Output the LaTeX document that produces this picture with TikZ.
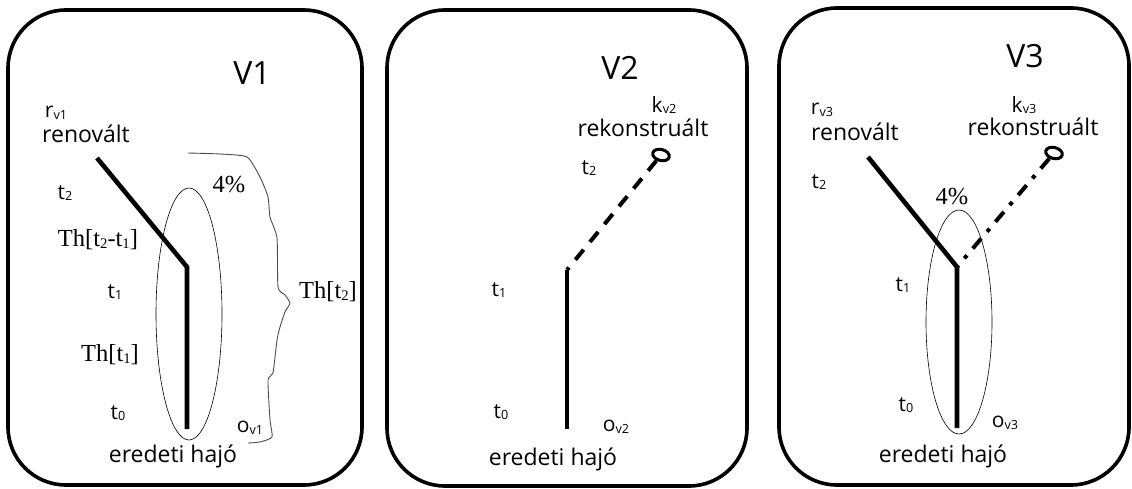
\documentclass[tikz,border=0pt]{standalone}
\usepackage{fontspec}
\usetikzlibrary{shapes.geometric}
\setmainfont{Liberation Serif}
\newfontfamily\osans{Open Sans}
\newcommand\lo[1]{\raisebox{-0.15ex}{\scalebox{0.6}{#1}}}
\begin{document}
\begin{tikzpicture}[x=1pt,y=-1pt,
  panel/.style={line width=3.6pt, rounded corners=58pt},
  title/.style={font=\osans\fontsize{32}{34}\selectfont, inner sep=0pt},
  sanslbl/.style={font=\osans\fontsize{23}{25}\selectfont, inner sep=0pt},
  tlbl/.style={font=\osans\fontsize{21}{23}\selectfont, inner sep=0pt},
  serlbl/.style={font=\fontsize{24.5}{26}\selectfont, inner sep=0pt},
  ship/.style={line width=4.6pt},
  recon/.style={line width=4pt, dash pattern=on 13pt off 10pt},
  recondot/.style={line width=4pt, dash pattern=on 13pt off 9pt on 4pt off 9pt},
  keyloop/.style={line width=3pt},
  thinell/.style={line width=0.6pt},
  wavy/.style={line width=0.9pt, black!70}
]
\useasboundingbox (0,0) rectangle (1132,489);

% ---------- Panel 1 ----------
\draw[panel] (8,10) rectangle (362,485);
\node[title] (v1) at (252,73) {V1};
\node[tlbl] (r1) at (56,113) {r\lo{v1}};
\node[sanslbl] (ren1) at (86,134) {renovált};
\node[tlbl] (t21) at (65,193) {t\lo{2}};
\node[serlbl] (th21) at (98,240) {Th[t\lo{2}-t\lo{1}]};
\node[tlbl] (t11) at (115,292) {t\lo{1}};
\node[serlbl] (th1) at (110,355) {Th[t\lo{1}]};
\node[tlbl] (t01) at (118,413) {t\lo{0}};
\node[sanslbl] (er1) at (173,456) {eredeti hajó};
\node[tlbl] (o1) at (250,428) {o\lo{v1}};
\node[serlbl] (p1) at (229,185) {4\%};
\node[serlbl] (tht2) at (328,292) {Th[t\lo{2}]};
\coordinate (a1) at (97,158);
\coordinate (j1) at (187,267);
\coordinate (b1) at (187,429);
\draw[ship, line join=miter] (a1) -- (j1) -- (b1);
\draw[thinell] (189,314) ellipse [x radius=33pt, y radius=126pt];
\draw[wavy] plot[smooth, tension=0.35] coordinates {(188,153) (220,154) (247,157) (260,177) (268,197) (270,217) (277,238) (278,287) (285,295) (290,303) (285,312) (280,327) (277,340) (273,373) (268,380) (270,420) (272,437) (260,442) (248,443)};

% ---------- Panel 2 ----------
\draw[panel] (387,10) rectangle (747,486);
\node[title] (v2) at (620,68) {V2};
\node[tlbl] (k2) at (664,105) {k\lo{v2}};
\node[sanslbl] (rek2) at (643,128) {rekonstruált};
\node[tlbl] (t22) at (589,168) {t\lo{2}};
\node[tlbl] (t12) at (499,290) {t\lo{1}};
\node[tlbl] (t02) at (501,412) {t\lo{0}};
\node[tlbl] (o2) at (616,427) {o\lo{v2}};
\node[sanslbl] (er2) at (553,459) {eredeti hajó};
\node[draw, keyloop, ellipse, minimum width=17pt, minimum height=11pt, inner sep=0pt, rotate=-15] (key2) at (661,155) {};
\coordinate (j2) at (567,270);
\coordinate (b2) at (567,429);
\draw[recon] (key2) -- (j2);
\draw[ship] (j2) -- (b2);

% ---------- Panel 3 ----------
\draw[panel] (779,8) rectangle (1129,485);
\node[title] (v3) at (1025,56) {V3};
\node[tlbl] (r3) at (822,110) {r\lo{v3}};
\node[sanslbl] (ren3) at (855,132) {renovált};
\node[tlbl] (k3) at (1024,105) {k\lo{v3}};
\node[sanslbl] (rek3) at (1033,127) {rekonstruált};
\node[tlbl] (t23) at (819,182) {t\lo{2}};
\node[serlbl] (p3) at (952,197) {4\%};
\node[tlbl] (t13) at (903,285) {t\lo{1}};
\node[tlbl] (t03) at (906,405) {t\lo{0}};
\node[tlbl] (o3) at (1005,423) {o\lo{v3}};
\node[sanslbl] (er3) at (943,456) {eredeti hajó};
\coordinate (a3) at (868,157);
\coordinate (j3) at (957,267);
\coordinate (b3) at (957,428);
\node[draw, keyloop, ellipse, minimum width=17pt, minimum height=11pt, inner sep=0pt, rotate=-15] (key3) at (1054,153) {};
\draw[recondot] (key3) -- (j3);
\draw[ship, line join=miter] (a3) -- (j3) -- (b3);
\draw[thinell] (959,322) ellipse [x radius=33pt, y radius=112pt];
\end{tikzpicture}
\end{document}
